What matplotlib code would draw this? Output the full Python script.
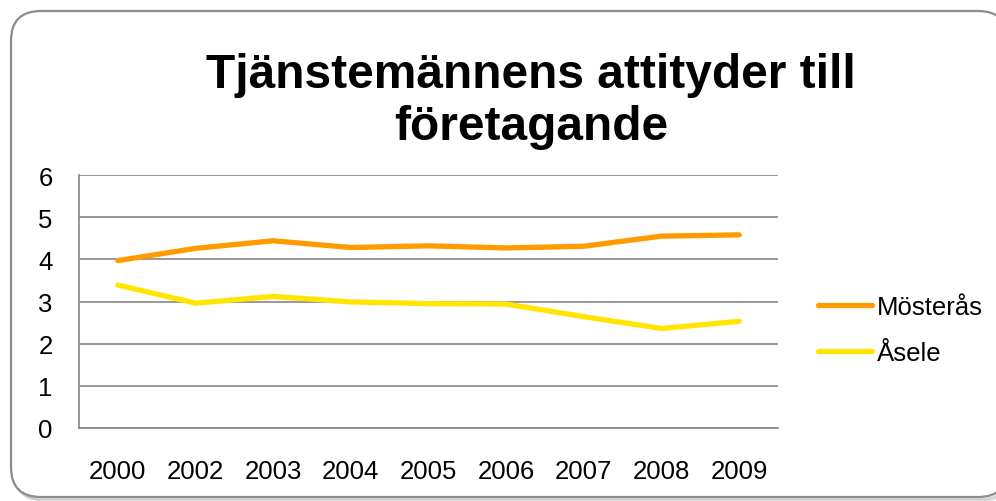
import matplotlib
matplotlib.use("Agg")
import matplotlib.pyplot as plt
from matplotlib.patches import FancyBboxPatch

years = ["2000", "2002", "2003", "2004", "2005", "2006", "2007", "2008", "2009"]
mosteras = [3.97, 4.26, 4.44, 4.28, 4.32, 4.27, 4.31, 4.55, 4.58]
asele = [3.39, 2.96, 3.12, 2.99, 2.95, 2.94, 2.64, 2.36, 2.53]
series_names = ["Mösterås", "Åsele"]
yticks = [0, 1, 2, 3, 4, 5, 6]

plt.rcParams['font.family'] = ['Liberation Sans', 'DejaVu Sans']

W, H = 996, 502
fig = plt.figure(figsize=(W / 100, H / 100), dpi=100)

fx0, fy0, fx1, fy1 = 11, 12, 1008, 498
# outer rounded frame with soft shadow
for off, alpha in [(4, 0.05), (3, 0.08), (2, 0.10)]:
    sh = FancyBboxPatch(((fx0 + off) / W, 1 - (fy1 + off) / H), (fx1 - fx0) / W, (fy1 - fy0) / H,
                        boxstyle="round,pad=0,rounding_size=0.03", transform=fig.transFigure,
                        facecolor='none', edgecolor='black', alpha=alpha, linewidth=2.0,
                        mutation_aspect=W / H, zorder=-20)
    fig.patches.append(sh)
frame = FancyBboxPatch((fx0 / W, 1 - fy1 / H), (fx1 - fx0) / W, (fy1 - fy0) / H,
                       boxstyle="round,pad=0,rounding_size=0.03", transform=fig.transFigure,
                       facecolor='white', edgecolor='#8c8c8c', linewidth=1.6,
                       mutation_aspect=W / H, zorder=-10)
fig.patches.append(frame)

left, right, top, bottom = 79, 778, 176, 429
ax = fig.add_axes([left / W, 1 - bottom / H, (right - left) / W, (bottom - top) / H])
ax.set_facecolor('none')
ax.set_zorder(5)

x = list(range(len(years)))
ax.plot(x, mosteras, color='#FF9A00', linewidth=3.8, solid_capstyle='round', label=series_names[0], zorder=3)
ax.plot(x, asele, color='#FFE500', linewidth=3.8, solid_capstyle='round', label=series_names[1], zorder=3)

ax.set_xlim(-0.5, len(years) - 0.5)
ax.set_ylim(0, 6)
ax.set_yticks(yticks)
ax.set_yticklabels([str(v) for v in yticks], fontsize=18.5)
ax.set_xticks(x)
ax.set_xticklabels(years, fontsize=18.5)
ax.tick_params(axis='both', length=0, colors='black')
ax.tick_params(axis='y', pad=19)
ax.tick_params(axis='x', pad=22)
ax.grid(axis='y', color='#868686', linewidth=1.2)
ax.set_axisbelow(True)
for s in ['top', 'right']:
    ax.spines[s].set_visible(False)
for s in ['left', 'bottom']:
    ax.spines[s].set_color('#868686')
    ax.spines[s].set_linewidth(1.2)

leg = ax.legend(loc='center left', bbox_to_anchor=((818 - left) / (right - left), (429 - 331) / (bottom - top)),
                frameon=False, fontsize=18.5, handlelength=2.1, handletextpad=0.2, labelspacing=0.82,
                borderaxespad=0, borderpad=0)

fig.text(531 / W, 1 - 88 / H, "Tjänstemännens attityder till", ha='center', va='baseline',
         fontsize=34.5, fontweight='bold')
fig.text(531 / W, 1 - 140 / H, "företagande", ha='center', va='baseline',
         fontsize=34.5, fontweight='bold')

fig.savefig("out.png", dpi=100)
